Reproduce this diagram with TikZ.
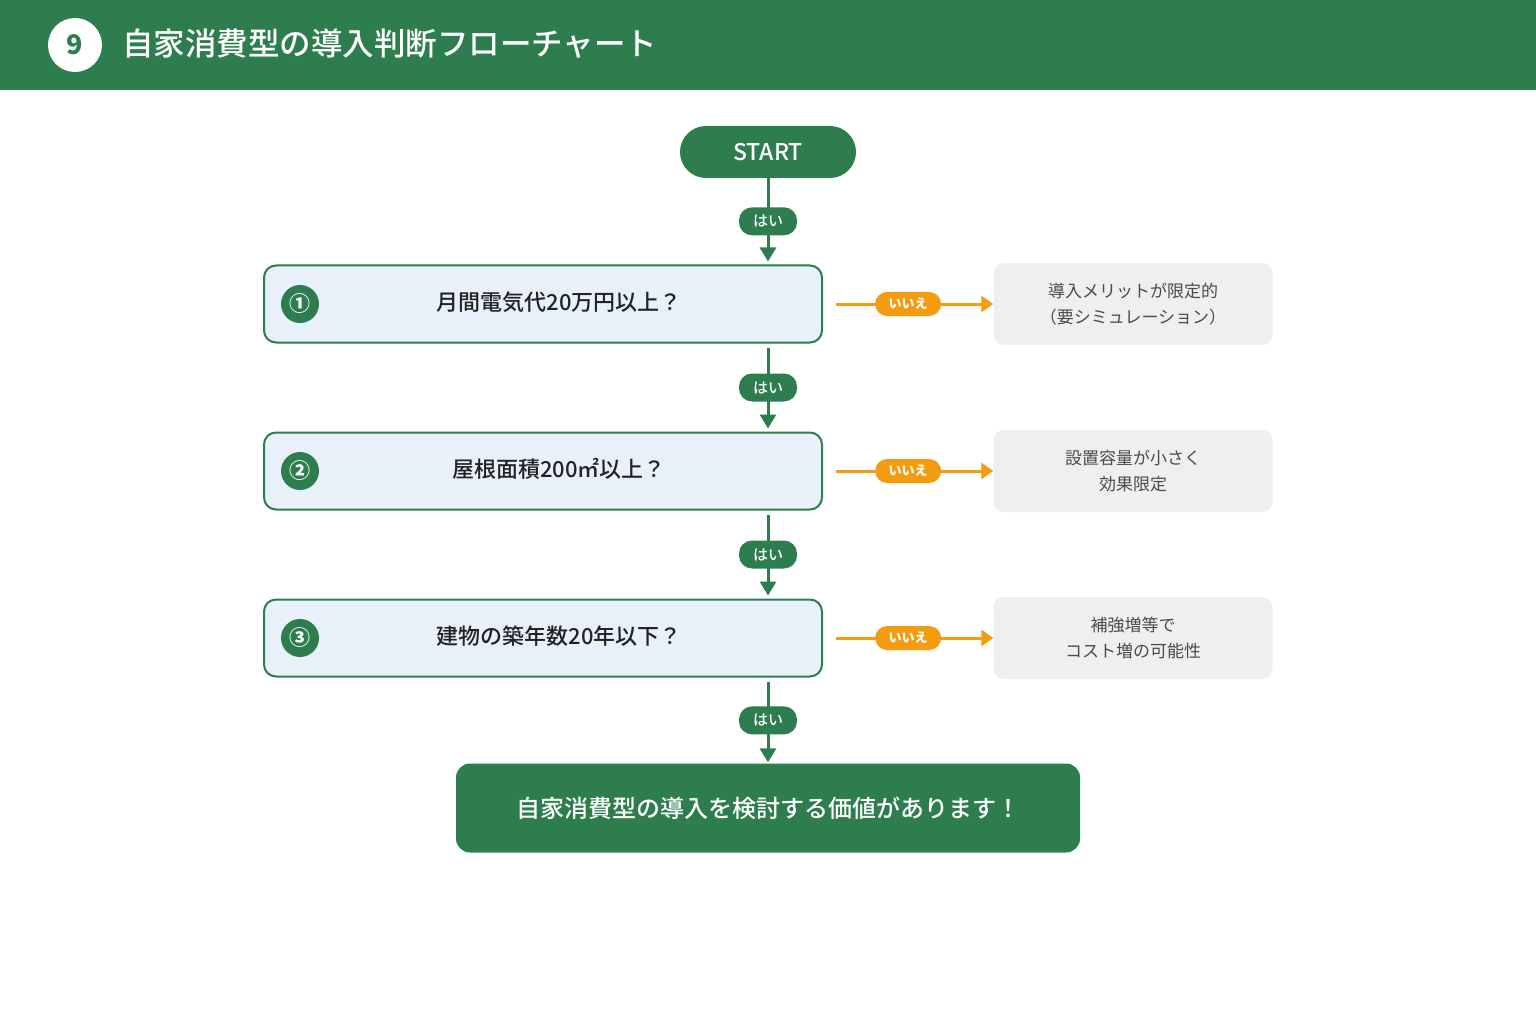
\documentclass[tikz,border=0pt]{standalone}
\usepackage{fontspec}
\setmainfont{Noto Sans CJK JP}
\newfontfamily\medium{Noto Sans CJK JP Medium}
\usetikzlibrary{shapes, arrows.meta}

\definecolor{leaf}{HTML}{2E7D4F}
\definecolor{qfill}{HTML}{E8F0FA}
\definecolor{nofill}{HTML}{EEEFEF}
\definecolor{amber}{HTML}{F39C12}
\definecolor{ink}{HTML}{222222}
\definecolor{slate}{HTML}{4A4A4A}

\begin{document}
\begin{tikzpicture}[x=1pt, y=-1pt, every node/.style={font=\medium}, >={Triangle[length=14pt, width=16pt]}]
  % Define styles
  \tikzstyle{banner} = [rectangle, fill=leaf, minimum width=1536pt, minimum height=90pt, inner sep=0pt]
  \tikzstyle{startbox} = [rectangle, rounded corners=26pt, fill=leaf, text=white, minimum width=176pt, minimum height=52pt, font=\medium\fontsize{23}{26}\selectfont]
  \tikzstyle{question} = [rectangle, rounded corners=12pt, draw=leaf, line width=2pt, fill=qfill, minimum width=558pt, minimum height=77pt]
  \tikzstyle{qtext} = [text=ink, font=\medium\fontsize{22}{25}\selectfont]
  \tikzstyle{badge} = [circle, fill=leaf, text=white, minimum size=38pt, inner sep=0pt, font=\bfseries\fontsize{21}{22}\selectfont]
  \tikzstyle{outcome} = [rectangle, rounded corners=10pt, fill=nofill, text=slate, minimum width=279pt, minimum height=82pt, align=center, font=\fontsize{17}{26}\selectfont]
  \tikzstyle{goal} = [rectangle, rounded corners=14pt, fill=leaf, text=white, minimum width=624pt, minimum height=89pt, font=\medium\fontsize{24}{27}\selectfont]
  \tikzstyle{yes} = [rectangle, rounded corners=13pt, fill=leaf, text=white, minimum width=58pt, minimum height=28pt, inner sep=0pt, font=\medium\fontsize{15}{16}\selectfont]
  \tikzstyle{no} = [rectangle, rounded corners=12pt, fill=amber, text=white, minimum width=66pt, minimum height=24pt, inner sep=0pt, font=\bfseries\fontsize{13}{15}\selectfont]
  \tikzstyle{flow} = [->, draw=leaf, fill=leaf, line width=3pt]
  \tikzstyle{skip} = [->, draw=amber, fill=amber, line width=3pt, >={Triangle[length=12pt, width=16pt]}]

  \useasboundingbox (0,0) rectangle (1536,1024);

  % Header
  \node[banner, anchor=north west] (band) at (0,0) {};
  \node[circle, fill=white, text=leaf, minimum size=54pt, inner sep=0pt, font=\bfseries\fontsize{27}{30}\selectfont] (num) at (75,45) {9};
  \node[anchor=west, text=white, inner sep=0pt, font=\medium\fontsize{31.5}{34}\selectfont] (title) at (122,44) {自家消費型の導入判断フローチャート};

  % Nodes
  \node[startbox] (start) at (768,152) {START};

  \node[question] (q1) at (543,304) {};
  \node[question] (q2) at (543,471) {};
  \node[question] (q3) at (543,638) {};

  \node[badge] (b1) at (300,304) {①};
  \node[badge] (b2) at (300,471) {②};
  \node[badge] (b3) at (300,638) {③};

  \node[qtext] (t1) at (559,302) {月間電気代20万円以上？};
  \node[qtext] (t2) at (559,469) {屋根面積200㎡以上？};
  \node[qtext] (t3) at (559,636) {建物の築年数20年以下？};

  \node[outcome] (n1) at (1133,304) {導入メリットが限定的\\（要シミュレーション）};
  \node[outcome] (n2) at (1133,471) {設置容量が小さく\\効果限定};
  \node[outcome] (n3) at (1133,638) {補強増等で\\コスト増の可能性};

  \node[goal] (goal) at (768,808) {自家消費型の導入を検討する価値があります！};

  % Arrows
  \draw[flow, shorten >=3pt] (start) -- node[yes] (y0) {はい} (q1.north -| start);
  \draw[flow, shorten <=4pt, shorten >=3pt] (q1.south -| start) -- node[yes] (y1) {はい} (q2.north -| start);
  \draw[flow, shorten <=4pt, shorten >=3pt] (q2.south -| start) -- node[yes] (y2) {はい} (q3.north -| start);
  \draw[flow, shorten <=4pt, shorten >=1pt] (q3.south -| start) -- node[yes] (y3) {はい} (goal);

  \draw[skip, shorten <=13pt] (q1) -- node[no] (m1) {いいえ} (n1);
  \draw[skip, shorten <=13pt] (q2) -- node[no] (m2) {いいえ} (n2);
  \draw[skip, shorten <=13pt] (q3) -- node[no] (m3) {いいえ} (n3);
\end{tikzpicture}
\end{document}
